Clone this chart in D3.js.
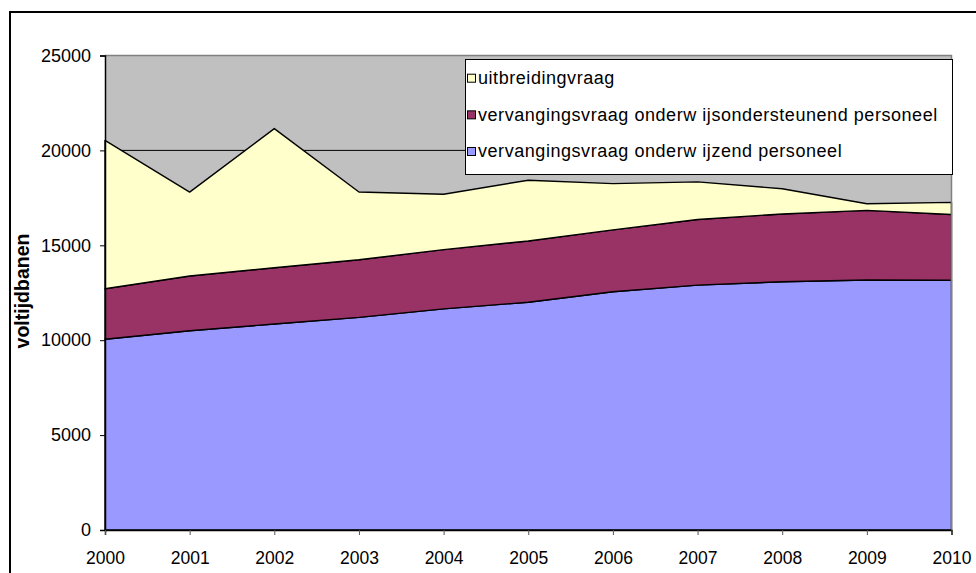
<!DOCTYPE html>
<html>
<head>
<meta charset="utf-8">
<script src="https://cdn.jsdelivr.net/npm/d3@7"></script>
<style>
  html, body { margin: 0; padding: 0; background: #fff; }
  svg { display: block; }
  text { font-family: "Liberation Sans", Arial, sans-serif; fill: #000; }
</style>
</head>
<body>
<svg id="chart" width="976" height="573"></svg>
<script>
// Years on the horizontal axis
const years = [2000, 2001, 2002, 2003, 2004, 2005, 2006, 2007, 2008, 2009, 2010];

// Demand in full-time jobs (voltijdbanen), per component
const onderwijzend  = [10050, 10500, 10850, 11200, 11650, 12000, 12550, 12900, 13080, 13170, 13160];
const ondersteunend = [2660, 2880, 2970, 3040, 3120, 3230, 3260, 3460, 3570, 3670, 3460];
const uitbreiding   = [7820, 4420, 7330, 3570, 2920, 3200, 2440, 1980, 1330, 350, 640];

// Series keys (bottom to top of the stack) and their labels
const seriesKeys   = ["onderwijzend", "ondersteunend", "uitbreiding"];
const seriesLabels = [
  "vervangingsvraag onderw ijzend personeel",
  "vervangingsvraag onderw ijsondersteunend personeel",
  "uitbreidingvraag"
];
const seriesColors = ["#9999FF", "#993366", "#FFFFCC"];

const yTicks = [0, 5000, 10000, 15000, 20000, 25000];
const yTitle = "voltijdbanen";

// Row table for d3.stack
const rows = years.map((yr, i) => ({
  year: yr,
  onderwijzend: onderwijzend[i],
  ondersteunend: ondersteunend[i],
  uitbreiding: uitbreiding[i]
}));

const svg = d3.select("#chart");

// Outer frame
svg.append("rect")
  .attr("x", 10).attr("y", 12)
  .attr("width", 1000).attr("height", 600)
  .attr("fill", "none").attr("stroke", "#000").attr("stroke-width", 2);

const plot = { left: 105, right: 951.5, top: 55.5, bottom: 530 };

const x = d3.scaleLinear().domain([2000, 2010]).range([plot.left, plot.right]);
const y = d3.scaleLinear().domain([0, 25000]).range([plot.bottom, plot.top]);

// Plot background
svg.append("rect")
  .attr("x", plot.left).attr("y", plot.top)
  .attr("width", plot.right - plot.left).attr("height", plot.bottom - plot.top)
  .attr("fill", "#C0C0C0");

// Horizontal gridlines
svg.append("g")
  .selectAll("line")
  .data(yTicks.filter(t => t > 0 && t < 25000))
  .join("line")
  .attr("x1", plot.left).attr("x2", plot.right)
  .attr("y1", d => y(d)).attr("y2", d => y(d))
  .attr("stroke", "#000").attr("stroke-width", 1);

// Stacked areas
const stack = d3.stack().keys(seriesKeys);
const layers = stack(rows);

const area = d3.area()
  .x(d => x(d.data.year))
  .y0(d => y(d[0]))
  .y1(d => y(d[1]));

svg.append("g")
  .selectAll("path")
  .data(layers)
  .join("path")
  .attr("d", area)
  .attr("fill", (d, i) => seriesColors[i])
  .attr("stroke", "#000")
  .attr("stroke-width", 1.4)
  .attr("stroke-linejoin", "round");

// Plot area border (top and right, grey)
svg.append("path")
  .attr("d", `M${plot.left},${plot.top}H${plot.right}V${plot.bottom}`)
  .attr("fill", "none").attr("stroke", "#808080").attr("stroke-width", 1.5);

// Y axis
const yAxis = d3.axisLeft(y).tickValues(yTicks).tickSize(5).tickPadding(9).tickFormat(d3.format("d"));
const gy = svg.append("g").attr("transform", `translate(${plot.left},0)`).call(yAxis);
gy.select(".domain").attr("stroke", "#000").attr("stroke-width", 1.5);
gy.selectAll(".tick line").attr("stroke", "#000");
gy.selectAll(".tick text")
  .attr("font-size", 18)
  .attr("font-family", "Liberation Sans, Arial, sans-serif")
  .attr("fill", "#000");

// X axis
const xAxis = d3.axisBottom(x).tickValues(years).tickSize(5).tickPadding(17).tickFormat(d3.format("d"));
const gx = svg.append("g").attr("transform", `translate(0,${plot.bottom})`).call(xAxis);
gx.select(".domain").attr("stroke", "#000").attr("stroke-width", 1.5);
gx.selectAll(".tick line").attr("stroke", "#555");
gx.selectAll(".tick text")
  .attr("font-size", 17.5)
  .attr("font-family", "Liberation Sans, Arial, sans-serif")
  .attr("fill", "#000");

// Y axis title
svg.append("text")
  .attr("transform", "translate(29,291) rotate(-90)")
  .attr("text-anchor", "middle")
  .attr("font-size", 19.5)
  .attr("font-weight", "bold")
  .text(yTitle);

// Legend
const legend = { x: 465, y: 59, w: 952 - 465, h: 174 - 59 };
const lg = svg.append("g");
lg.append("rect")
  .attr("x", legend.x + 0.5).attr("y", legend.y + 0.5)
  .attr("width", legend.w).attr("height", legend.h)
  .attr("fill", "#fff").attr("stroke", "#000").attr("stroke-width", 1);

const legendOrder = [2, 1, 0];
const items = lg.selectAll("g.item")
  .data(legendOrder)
  .join("g")
  .attr("class", "item")
  .attr("transform", (d, i) => `translate(${legend.x + 2}, ${78.2 + i * 36.65})`);

items.append("rect")
  .attr("x", 0.5).attr("y", -4)
  .attr("width", 8).attr("height", 8)
  .attr("fill", d => seriesColors[d])
  .attr("stroke", "#000").attr("stroke-width", 1);

items.append("text")
  .attr("x", 11)
  .attr("y", 5.8)
  .attr("font-size", 18)
  .attr("letter-spacing", 0.55)
  .text(d => seriesLabels[d]);
</script>
</body>
</html>
